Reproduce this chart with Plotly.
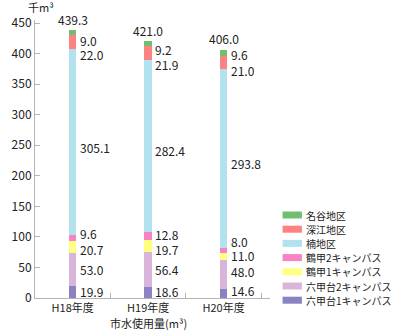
import plotly.graph_objects as go

years = ["H18年度", "H19年度", "H20年度"]
series_names = ["六甲台1キャンパス", "六甲台2キャンパス", "鶴甲1キャンパス",
                "鶴甲2キャンパス", "楠地区", "深江地区", "名谷地区"]
rokkodai1 = [19.9, 18.6, 14.6]
rokkodai2 = [53.0, 56.4, 48.0]
tsurukabuto1 = [20.7, 19.7, 11.0]
tsurukabuto2 = [9.6, 12.8, 8.0]
kusunoki = [305.1, 282.4, 293.8]
fukae = [22.0, 21.9, 21.0]
myodani = [9.0, 9.2, 9.6]
totals = [439.3, 421.0, 406.0]
y_ticks = [0, 50, 100, 150, 200, 250, 300, 350, 400, 450]

series_values = [rokkodai1, rokkodai2, tsurukabuto1, tsurukabuto2, kusunoki, fukae, myodani]
colors = ["#8a82c2", "#d9b5d9", "#ffff80", "#f882c2", "#b2e2ee", "#ff8282", "#6fbf6f"]

# label pixel nudges (style only), per series per year
label_shift = [
    [0, 1, 3],
    [0, 0, 3],
    [-2, -3, 1],
    [4, 2, 9],
    [-6, -4, -5],
    [-13, -11, -8],
    [-8, -6, -2],
]
total_shift = [0, 0, 1]

ML, MR, MT, MB = 27, 125, 20, 35
W, H = 395, 333
PW = W - ML - MR
PH = H - MT - MB

def px_x(p):
    return (p - ML) / PW

def px_y(p):
    return (H - MB - p) / PH

FONT = "Noto Sans CJK JP, Noto Sans, sans-serif"
TXT = "#222222"

fig = go.Figure()
for name, vals, col in zip(series_names, series_values, colors):
    fig.add_trace(go.Bar(x=years, y=vals, name=name, marker=dict(color=col, line=dict(width=0)),
                         width=0.1, showlegend=False))

annotations = []
for j, yr in enumerate(years):
    cum = 0.0
    for i, vals in enumerate(series_values):
        v = vals[j]
        center = cum + v / 2
        cum += v
        annotations.append(dict(x=yr, y=center, xref="x", yref="y", text=f"{v:.1f}",
                                showarrow=False, xanchor="left", yanchor="middle",
                                xshift=5, yshift=label_shift[i][j],
                                font=dict(size=12, color=TXT, family=FONT)))
    annotations.append(dict(x=yr, y=cum, xref="x", yref="y", text=f"{totals[j]:.1f}",
                            showarrow=False, xanchor="center", yanchor="bottom",
                            yshift=total_shift[j],
                            font=dict(size=12, color=TXT, family=FONT)))

# axis titles
annotations.append(dict(x=0, y=1, xref="paper", yref="paper", text="千m³", showarrow=False,
                        xanchor="center", yanchor="middle", xshift=6, yshift=13,
                        font=dict(size=11, color=TXT, family=FONT)))
annotations.append(dict(x=years[1], y=0, xref="x", yref="paper", text="市水使用量(m³)",
                        showarrow=False, xanchor="center", yanchor="bottom", yshift=-35,
                        font=dict(size=11, color=TXT, family=FONT)))

# manual legend (top to bottom: reverse of stacking)
shapes = []
for k, idx in enumerate(reversed(range(len(series_names)))):
    yc = 215 + k * 14.2
    shapes.append(dict(type="rect", xref="paper", yref="paper",
                       x0=px_x(283), x1=px_x(303), y0=px_y(yc + 3.5), y1=px_y(yc - 3.5),
                       fillcolor=colors[idx], line=dict(width=0)))
    annotations.append(dict(x=px_x(305), y=px_y(yc), xref="paper", yref="paper",
                            text=series_names[idx], showarrow=False,
                            xanchor="left", yanchor="middle",
                            font=dict(size=10, color=TXT, family=FONT)))

fig.update_layout(
    barmode="stack",
    width=W, height=H,
    margin=dict(l=ML, r=MR, t=MT, b=MB, pad=0),
    paper_bgcolor="white", plot_bgcolor="white",
    showlegend=False,
    annotations=annotations,
    shapes=shapes,
    font=dict(family=FONT, color=TXT),
    xaxis=dict(type="category", range=[-0.5, 2.615], showline=True, linecolor="#b4b4b4",
               linewidth=1, ticks="inside", ticklen=5, tickcolor="#b4b4b4",
               tickson="boundaries", showgrid=False, zeroline=False,
               tickfont=dict(size=11, color=TXT, family=FONT)),
    yaxis=dict(range=[0, 455], tickvals=y_ticks, showline=True, linecolor="#b4b4b4",
               linewidth=1, ticks="inside", ticklen=5, tickcolor="#b4b4b4",
               showgrid=False, zeroline=False,
               tickfont=dict(size=12, color=TXT, family=FONT)),
)

fig.write_html("out.html")
